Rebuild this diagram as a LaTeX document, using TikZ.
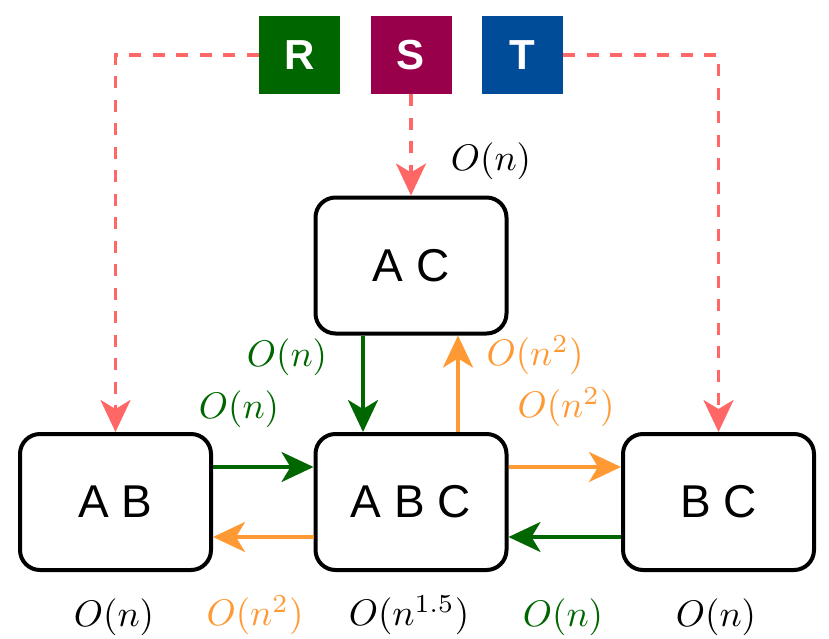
\documentclass[tikz,border=0pt]{standalone}
\usepackage{graphicx}
\usepackage[no-math]{fontspec}
\newfontfamily\boxfont{Liberation Sans}
\usetikzlibrary{arrows.meta}

\definecolor{rgreen}{HTML}{006600}
\definecolor{smag}{HTML}{99004C}
\definecolor{tblue}{HTML}{004C99}
\definecolor{corange}{HTML}{FF9933}
\definecolor{cred}{HTML}{FF6666}

\newcommand{\cst}[1]{\scalebox{3.7}{$#1$}}

\tikzset{
  relbox/.style={draw, line width=4pt, rounded corners=20pt, minimum width=191pt, minimum height=136pt,
    font=\boxfont\fontsize{46}{52}\selectfont},
  srcbox/.style={minimum width=81pt, minimum height=78pt, inner sep=0pt, text=white,
    font=\boxfont\bfseries\fontsize{42}{48}\selectfont},
  cost/.style={inner sep=0pt},
  tip/.style={-{Stealth[length=32pt,width=30pt,inset=9pt]}},
  feed/.style={tip, draw=cred, line width=3.5pt, dash pattern=on 12pt off 11.5pt},
  cheap/.style={tip, draw=rgreen, line width=3.5pt},
  dear/.style={tip, draw=corange, line width=3.5pt}
}

\begin{document}
\begin{tikzpicture}[x=1pt,y=-1pt]
\useasboundingbox (0,0) rectangle (829,639);

% sources
\node [srcbox, fill=rgreen] (r) at (299.5,55) {R};
\node [srcbox, fill=smag] (s) at (411,55) {S};
\node [srcbox, fill=tblue] (t) at (522.5,55) {T};

% join results
\node [relbox] (ac) at (411,265.5) {A C};
\node [relbox] (ab) at (115.5,502) {A B};
\node [relbox] (abc) at (411,502) {A B C};
\node [relbox] (bc) at (718.5,502) {B C};

% loading
\draw [feed] (r.west) -| (ab.north);
\draw [feed] (s.south) -- (ac.north);
\draw [feed] (t.east) -| (bc.north);

% between the boxes
\draw [cheap] ([xshift=-48pt]ac.south) -- ([xshift=-48pt]abc.north);
\draw [dear] ([xshift=47pt]abc.north) -- ([xshift=47pt]ac.south);
\draw [cheap] ([yshift=35pt]ab.east) -- ([yshift=35pt]abc.west);
\draw [dear] ([yshift=-35pt]abc.west) -- ([yshift=-35pt]ab.east);
\draw [dear] ([yshift=35pt]abc.east) -- ([yshift=35pt]bc.west);
\draw [cheap] ([yshift=-35pt]bc.west) -- ([yshift=-35pt]abc.east);

% costs
\node [cost] (cs) at (491,161) {\cst{O(n)}};
\node [cost, text=rgreen] (cacd) at (287,357) {\cst{O(n)}};
\node [cost, text=corange] (cacu) at (535,355) {\cst{O(n^2)}};
\node [cost, text=rgreen] (cabr) at (239,409) {\cst{O(n)}};
\node [cost, text=corange] (cbcr) at (566,407) {\cst{O(n^2)}};
\node [cost] (qab) at (114,617) {\cst{O(n)}};
\node [cost, text=corange] (qabl) at (255,615) {\cst{O(n^2)}};
\node [cost] (qabc) at (409,615) {\cst{O(n^{1.5})}};
\node [cost, text=rgreen] (qbcl) at (563,617) {\cst{O(n)}};
\node [cost] (qbc) at (716,617) {\cst{O(n)}};
\end{tikzpicture}
\end{document}
